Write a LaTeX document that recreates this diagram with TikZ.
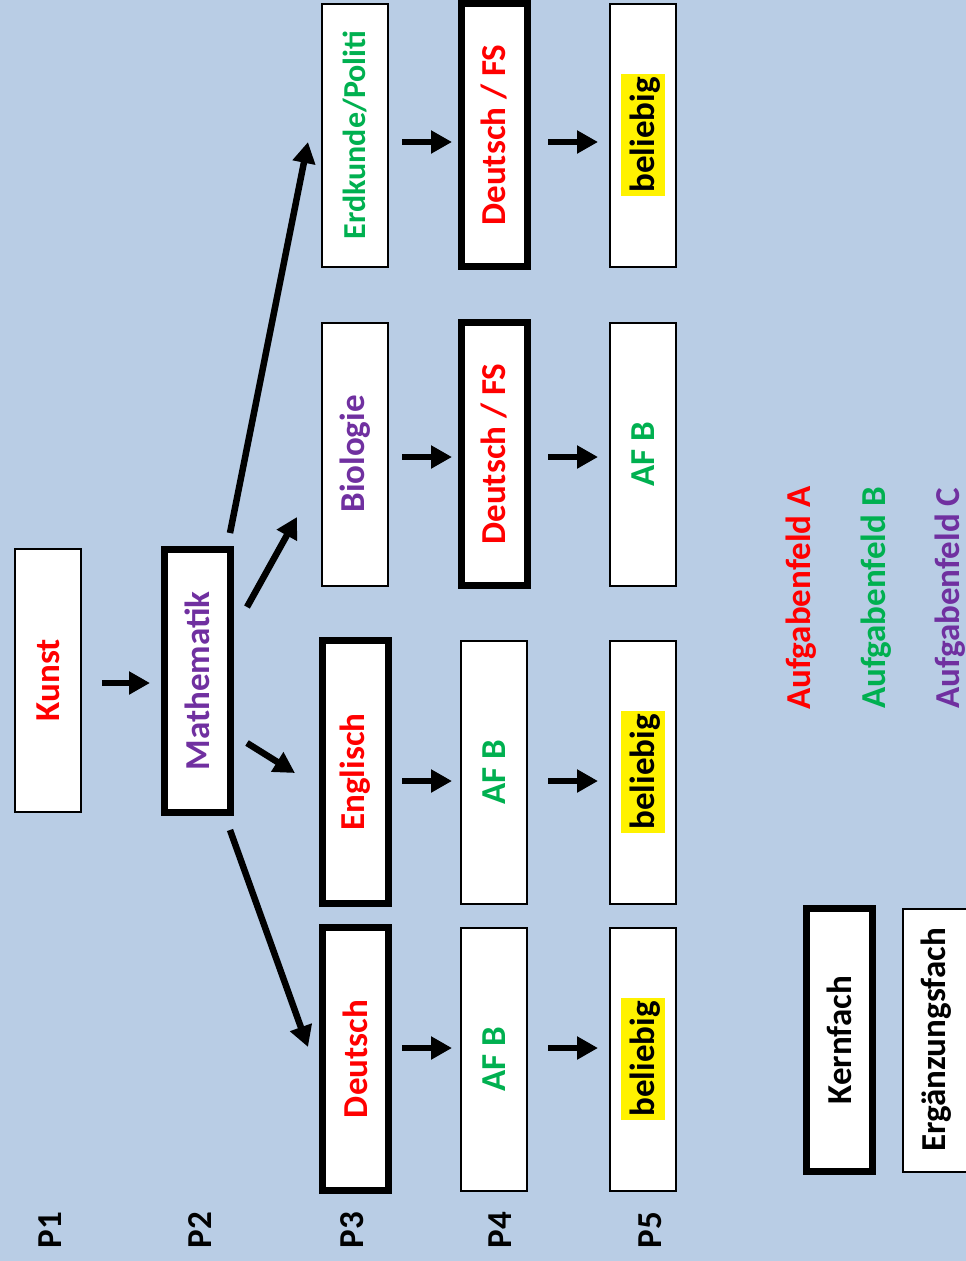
\documentclass[tikz,border=0pt]{standalone}
\usepackage{fontspec}
\setmainfont{Carlito}
\usetikzlibrary{arrows.meta,calc}
\definecolor{bg}{HTML}{B9CDE5}
\definecolor{afa}{HTML}{FF0000}
\definecolor{afb}{HTML}{00B050}
\definecolor{afc}{HTML}{7030A0}
\newcommand{\hlbox}[1]{{\setlength{\fboxsep}{0pt}\colorbox{yellow}{\rule[-0.3em]{0pt}{1.23em}\hspace{3pt}#1\hspace{3pt}}}}
\begin{document}
\begin{tikzpicture}[x=1pt,y=-1pt,
  box/.style={rotate=90,draw=black,fill=white,line width=2pt,minimum width=263pt,minimum height=66pt,inner sep=0pt,outer sep=0pt,font=\fontsize{35}{42}\selectfont\bfseries},
  kern/.style={box,line width=7pt},
  txt/.style={rotate=90,inner sep=0pt,font=\fontsize{35}{42}\selectfont\bfseries},
  arr/.style={line width=6.5pt,-{Triangle[length=21pt,width=22pt]}}]
\useasboundingbox (0,0) rectangle (966,1261);
\fill[bg] (0,0) rectangle (966,1261);
% P1, P2
\node[box,text=afa] (kunst) at (48,680) {Kunst};
\node[kern,text=afc] (mathe) at (197,681) {Mathematik};
% P3
\node[box,text=afb,font=\fontsize{32}{40}\selectfont\bfseries] (erd) at (355,135) {Erdkunde/Politi};
\node[box,text=afc] (bio) at (355,454) {Biologie};
\node[kern,text=afa] (eng) at (355,772) {Englisch};
\node[kern,text=afa] (deu) at (355,1059) {Deutsch};
% P4
\node[kern,text=afa] (dfsa) at (494,135) {Deutsch / FS};
\node[kern,text=afa] (dfsb) at (494,454) {Deutsch / FS};
\node[box,text=afb] (afbc) at (494,772) {AF B};
\node[box,text=afb] (afbd) at (494,1059) {AF B};
% P5
\node[box] (bela) at (643,135) {\hlbox{beliebig}};
\node[box,text=afb] (afbb) at (643,454) {AF B};
\node[box] (belc) at (643,772) {\hlbox{beliebig}};
\node[box] (beld) at (643,1059) {\hlbox{beliebig}};
% legend
\node[kern] (kernfach) at (839,1040) {Kernfach};
\node[box] (erg) at (936,1040) {Ergänzungsfach};
\node[txt,text=afa] (lega) at (801,598) {Aufgabenfeld A};
\node[txt,text=afb] (legb) at (876,598) {Aufgabenfeld B};
\node[txt,text=afc] (legc) at (950,598) {Aufgabenfeld C};
% P labels
\node[txt] (pa) at (50,1230) {P1};
\node[txt] (pb) at (200,1230) {P2};
\node[txt] (pc) at (352,1230) {P3};
\node[txt] (pd) at (500,1230) {P4};
\node[txt] (pe) at (650,1230) {P5};
% arrows
\draw[arr] ($(kunst)+(54,3)$) -- ($(mathe)+(-47,2)$);
\draw[arr] ($(mathe)+(33,-148)$) -- ($(erd)+(-47,7)$);
\draw[arr] ($(mathe)+(50,-74)$) -- ($(bio)+(-58,63)$);
\draw[arr] ($(mathe)+(50,62)$) -- ($(eng)+(-60,1)$);
\draw[arr] ($(mathe)+(33,149)$) -- ($(deu)+(-47,-12)$);
\draw[arr] ($(erd)+(47,7)$) -- ($(dfsa)+(-42,7)$);
\draw[arr] ($(dfsa)+(54,7)$) -- ($(bela)+(-45,7)$);
\draw[arr] ($(bio)+(47,3)$) -- ($(dfsb)+(-42,3)$);
\draw[arr] ($(dfsb)+(54,3)$) -- ($(afbb)+(-45,3)$);
\draw[arr] ($(eng)+(47,9)$) -- ($(afbc)+(-42,9)$);
\draw[arr] ($(afbc)+(54,9)$) -- ($(belc)+(-45,9)$);
\draw[arr] ($(deu)+(47,-11)$) -- ($(afbd)+(-42,-11)$);
\draw[arr] ($(afbd)+(54,-11)$) -- ($(beld)+(-45,-11)$);
\end{tikzpicture}
\end{document}
